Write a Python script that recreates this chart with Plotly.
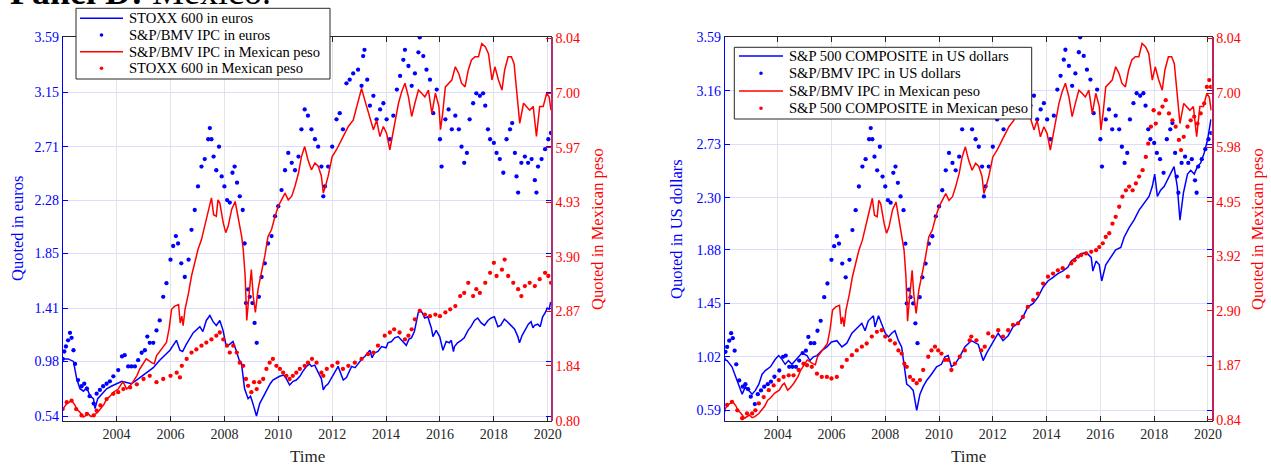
import plotly.graph_objects as go

# ---------------- data (decimal year, value) ----------------
stoxx600_eur = [(2002.0,1.00),(2002.2,1.00),(2002.4,0.98),(2002.52,0.84),(2002.64,0.76),(2002.77,0.74),(2002.89,0.77),
 (2003.02,0.70),(2003.14,0.68),(2003.2,0.60),(2003.3,0.68),(2003.45,0.72),(2003.63,0.76),(2003.8,0.78),(2004.0,0.80),
 (2004.2,0.82),(2004.37,0.81),(2004.55,0.80),(2004.74,0.83),(2004.99,0.87),(2005.2,0.90),(2005.36,0.93),(2005.6,0.99),
 (2005.8,1.03),(2005.98,1.07),(2006.22,1.15),(2006.35,1.07),(2006.45,1.06),(2006.59,1.12),(2006.84,1.21),(2007.09,1.26),
 (2007.2,1.22),(2007.33,1.31),(2007.46,1.35),(2007.58,1.30),(2007.7,1.27),(2007.83,1.31),(2007.95,1.23),(2008.07,1.10),
 (2008.2,1.12),(2008.32,1.14),(2008.45,1.06),(2008.55,0.99),(2008.63,0.97),(2008.75,0.76),(2008.88,0.68),(2008.97,0.70),
 (2009.06,0.64),(2009.19,0.54),(2009.31,0.64),(2009.45,0.70),(2009.56,0.75),(2009.7,0.80),(2009.8,0.83),(2009.95,0.85),
 (2010.05,0.86),(2010.2,0.87),(2010.3,0.84),(2010.42,0.79),(2010.55,0.82),(2010.67,0.83),(2010.8,0.86),(2010.91,0.90),
 (2011.05,0.94),(2011.16,0.96),(2011.23,0.94),(2011.35,0.95),(2011.48,0.89),(2011.6,0.84),(2011.67,0.75),(2011.75,0.78),
 (2011.85,0.80),(2012.0,0.86),(2012.1,0.90),(2012.22,0.94),(2012.41,0.83),(2012.53,0.85),(2012.72,0.94),(2012.85,0.93),
 (2012.96,0.96),(2013.1,1.00),(2013.21,1.02),(2013.4,1.07),(2013.48,1.01),(2013.58,1.05),(2013.7,1.06),(2013.83,1.10),
 (2014.0,1.09),(2014.07,1.13),(2014.2,1.14),(2014.32,1.17),(2014.45,1.18),(2014.57,1.15),(2014.75,1.11),(2014.85,1.16),
 (2014.94,1.17),(2015.05,1.22),(2015.19,1.37),(2015.25,1.40),(2015.35,1.37),(2015.43,1.33),(2015.55,1.34),(2015.62,1.29),
 (2015.68,1.25),(2015.74,1.18),(2015.86,1.23),(2015.99,1.18),(2016.05,1.12),(2016.11,1.07),(2016.23,1.14),(2016.35,1.13),
 (2016.42,1.15),(2016.5,1.06),(2016.54,1.10),(2016.65,1.13),(2016.79,1.15),(2016.9,1.17),(2017.04,1.23),(2017.15,1.26),
 (2017.28,1.31),(2017.4,1.33),(2017.53,1.29),(2017.65,1.27),(2017.78,1.31),(2017.9,1.33),(2018.02,1.34),(2018.15,1.26),
 (2018.25,1.27),(2018.39,1.32),(2018.5,1.30),(2018.64,1.27),(2018.77,1.24),(2018.89,1.18),(2018.95,1.13),(2019.05,1.19),
 (2019.14,1.23),(2019.28,1.28),(2019.38,1.30),(2019.45,1.25),(2019.51,1.27),(2019.63,1.28),(2019.72,1.26),(2019.81,1.34),
 (2019.9,1.37),(2019.98,1.41),(2020.05,1.40),(2020.11,1.46)]

ipc_eur = [(2002.0,1.00),(2002.06,1.06),(2002.12,1.10),(2002.2,1.15),(2002.27,1.21),(2002.33,1.17),(2002.4,1.07),
 (2002.46,0.96),(2002.57,0.83),(2002.7,0.78),(2002.8,0.80),(2002.9,0.76),(2003.0,0.70),(2003.15,0.64),(2003.26,0.72),
 (2003.38,0.75),(2003.5,0.78),(2003.63,0.80),(2003.75,0.82),(2003.88,0.86),(2004.06,0.91),(2004.2,1.02),(2004.3,1.03),
 (2004.43,0.94),(2004.55,0.94),(2004.68,0.94),(2004.8,0.99),(2004.93,1.05),(2005.05,1.07),(2005.14,1.18),(2005.23,1.13),
 (2005.36,1.13),(2005.48,1.23),(2005.6,1.31),(2005.73,1.50),(2005.85,1.61),(2006.0,1.80),(2006.1,1.91),(2006.2,1.99),
 (2006.28,1.93),(2006.4,1.77),(2006.53,1.66),(2006.67,1.80),(2006.78,2.04),(2006.9,2.20),(2007.02,2.39),(2007.15,2.55),
 (2007.27,2.61),(2007.4,2.77),(2007.46,2.86),(2007.52,2.77),(2007.6,2.63),(2007.7,2.52),(2007.8,2.71),(2007.9,2.47),
 (2008.0,2.39),(2008.1,2.28),(2008.2,2.26),(2008.3,2.50),(2008.38,2.55),(2008.47,2.42),(2008.57,2.31),(2008.68,2.20),
 (2008.75,1.93),(2008.8,1.45),(2008.88,1.56),(2008.94,1.50),(2009.04,1.45),(2009.12,1.29),(2009.2,1.13),(2009.28,1.50),
 (2009.38,1.66),(2009.5,1.77),(2009.62,1.93),(2009.75,1.99),(2009.88,2.15),(2010.0,2.23),(2010.12,2.36),(2010.25,2.52),
 (2010.37,2.66),(2010.5,2.58),(2010.62,2.52),(2010.75,2.63),(2010.86,2.85),(2010.98,3.01),(2011.1,2.96),(2011.23,2.85),
 (2011.36,2.77),(2011.48,2.71),(2011.6,2.55),(2011.67,2.31),(2011.73,2.39),(2011.85,2.55),(2012.0,2.71),(2012.16,2.93),
 (2012.28,2.98),(2012.4,2.85),(2012.53,3.22),(2012.65,3.25),(2012.78,3.30),(2012.96,3.33),(2013.09,3.20),(2013.15,3.44),
 (2013.2,3.49),(2013.3,3.25),(2013.4,3.04),(2013.53,3.12),(2013.65,2.93),(2013.78,3.01),(2013.9,3.06),(2014.02,2.93),
 (2014.14,2.77),(2014.27,2.96),(2014.4,3.17),(2014.52,3.28),(2014.64,3.41),(2014.7,3.49),(2014.83,3.36),(2014.95,3.20),
 (2015.07,3.30),(2015.2,3.47),(2015.25,3.59),(2015.38,3.44),(2015.5,3.33),(2015.63,3.25),(2015.75,2.98),(2015.88,3.17),
 (2016.0,2.77),(2016.06,2.55),(2016.2,2.93),(2016.32,3.01),(2016.44,2.85),(2016.57,2.96),(2016.7,2.85),(2016.8,2.71),
 (2016.9,2.58),(2017.0,2.66),(2017.1,2.93),(2017.23,3.06),(2017.35,3.14),(2017.48,3.12),(2017.6,3.14),(2017.68,3.04),
 (2017.78,2.85),(2017.86,2.77),(2018.0,2.74),(2018.1,2.66),(2018.22,2.61),(2018.35,2.50),(2018.47,2.77),(2018.6,2.85),
 (2018.68,2.90),(2018.78,2.66),(2018.84,2.47),(2018.9,2.34),(2019.02,2.58),(2019.15,2.63),(2019.27,2.58),(2019.4,2.61),
 (2019.52,2.44),(2019.58,2.34),(2019.64,2.55),(2019.77,2.61),(2019.9,2.69),(2020.02,2.77),(2020.12,2.82)]

# in the chart the IPC quoted in US dollars plots on the same points as the IPC quoted in euros
ipc_usd = list(ipc_eur)

ipc_mxn = [(2002.0,1.02),(2002.15,1.12),(2002.33,1.18),(2002.45,1.10),(2002.52,1.02),(2002.64,0.96),(2002.77,0.87),
 (2002.95,0.93),(2003.05,0.88),(2003.15,0.90),(2003.3,0.96),(2003.4,1.02),(2003.52,1.10),(2003.63,1.21),(2003.75,1.26),
 (2003.88,1.34),(2004.06,1.40),(2004.18,1.50),(2004.25,1.53),(2004.37,1.40),(2004.48,1.45),(2004.6,1.53),(2004.75,1.65),
 (2004.86,1.78),(2005.0,1.90),(2005.1,1.97),(2005.3,1.90),(2005.4,1.88),(2005.48,2.03),(2005.67,2.15),(2005.85,2.28),
 (2005.95,2.55),(2006.04,2.91),(2006.16,2.97),(2006.3,3.00),(2006.36,2.65),(2006.42,2.78),(2006.47,2.60),(2006.54,2.91),
 (2006.67,3.22),(2006.78,3.54),(2006.9,3.79),(2007.02,4.04),(2007.15,4.23),(2007.27,4.48),(2007.4,4.80),(2007.52,5.02),
 (2007.6,4.70),(2007.7,4.67),(2007.76,4.98),(2007.83,4.92),(2007.96,4.54),(2008.05,4.36),(2008.14,4.48),(2008.27,4.80),
 (2008.4,4.95),(2008.52,4.61),(2008.64,4.29),(2008.7,4.04),(2008.77,3.54),(2008.83,2.70),(2008.88,3.00),(2008.92,3.22),
 (2009.0,3.66),(2009.07,3.16),(2009.15,2.85),(2009.25,3.29),(2009.38,3.60),(2009.5,3.92),(2009.62,4.29),(2009.75,4.42),
 (2009.88,4.67),(2010.0,4.86),(2010.12,4.98),(2010.25,5.11),(2010.37,4.98),(2010.5,5.05),(2010.62,5.24),(2010.75,5.49),
 (2010.86,5.80),(2010.98,5.99),(2011.1,5.74),(2011.23,5.55),(2011.36,5.68),(2011.48,5.62),(2011.6,5.43),(2011.67,5.11),
 (2011.75,5.24),(2011.85,5.43),(2012.0,5.80),(2012.16,5.93),(2012.35,6.12),(2012.47,6.24),(2012.6,6.37),(2012.78,6.49),
 (2012.96,6.81),(2013.09,7.09),(2013.21,6.87),(2013.4,6.56),(2013.53,6.31),(2013.65,6.49),(2013.77,6.18),(2013.9,6.37),
 (2014.02,6.24),(2014.14,5.93),(2014.27,6.31),(2014.46,6.81),(2014.58,7.03),(2014.7,7.19),(2014.83,6.93),(2014.95,6.56),
 (2015.07,6.81),(2015.2,7.06),(2015.32,7.00),(2015.44,6.93),(2015.57,7.06),(2015.7,6.62),(2015.83,7.00),(2015.96,6.75),
 (2016.02,6.31),(2016.1,6.62),(2016.2,7.12),(2016.32,7.19),(2016.44,7.25),(2016.57,7.50),(2016.7,7.37),(2016.8,7.19),
 (2016.93,7.12),(2017.05,7.44),(2017.17,7.63),(2017.3,7.69),(2017.43,7.69),(2017.55,7.94),(2017.68,7.88),(2017.8,7.75),
 (2017.93,7.25),(2018.04,7.50),(2018.17,7.25),(2018.3,7.06),(2018.4,7.44),(2018.53,7.69),(2018.65,7.69),(2018.75,7.56),
 (2018.84,7.06),(2018.96,6.43),(2019.1,6.81),(2019.22,6.75),(2019.33,6.68),(2019.46,6.75),(2019.58,6.18),(2019.7,6.75),
 (2019.83,6.75),(2019.96,7.00),(2020.05,6.93),(2020.12,6.68)]

stoxx600_mxn = [(2002.0,1.02),(2002.15,1.15),(2002.33,1.18),(2002.5,1.02),(2002.7,0.90),(2002.9,0.93),(2003.15,0.90),
 (2003.26,0.99),(2003.4,1.09),(2003.63,1.21),(2003.88,1.31),(2004.06,1.34),(2004.25,1.40),(2004.5,1.43),(2004.75,1.49),
 (2005.0,1.59),(2005.23,1.65),(2005.48,1.53),(2005.73,1.59),(2006.0,1.65),(2006.23,1.71),(2006.35,1.62),(2006.42,1.84),
 (2006.6,1.97),(2006.78,2.09),(2006.96,2.15),(2007.15,2.22),(2007.33,2.28),(2007.52,2.34),(2007.7,2.41),(2007.83,2.47),
 (2007.96,2.34),(2008.1,2.22),(2008.2,2.09),(2008.33,2.22),(2008.46,2.09),(2008.57,1.90),(2008.7,1.84),(2008.8,1.59),
 (2008.88,1.46),(2009.0,1.34),(2009.1,1.53),(2009.2,1.40),(2009.3,1.53),(2009.44,1.59),(2009.56,1.78),(2009.68,1.90),
 (2009.8,1.97),(2009.93,1.84),(2010.06,1.78),(2010.18,1.71),(2010.3,1.65),(2010.42,1.59),(2010.54,1.65),(2010.67,1.71),
 (2010.8,1.78),(2010.98,1.84),(2011.1,1.90),(2011.25,1.97),(2011.42,1.90),(2011.6,1.71),(2011.67,1.65),(2011.8,1.78),
 (2012.0,1.84),(2012.2,1.90),(2012.4,1.78),(2012.6,1.84),(2012.84,1.90),(2013.09,1.97),(2013.33,2.06),(2013.53,2.09),
 (2013.7,2.22),(2013.95,2.41),(2014.14,2.47),(2014.3,2.53),(2014.5,2.47),(2014.7,2.34),(2014.83,2.41),(2014.95,2.53),
 (2015.07,2.72),(2015.25,2.88),(2015.44,2.81),(2015.63,2.78),(2015.83,2.81),(2016.0,2.78),(2016.2,2.85),(2016.38,2.91),
 (2016.57,2.97),(2016.75,3.16),(2016.9,3.22),(2017.05,3.41),(2017.23,3.16),(2017.35,3.29),(2017.48,3.22),(2017.68,3.41),
 (2017.86,3.60),(2018.0,3.79),(2018.1,3.54),(2018.3,3.66),(2018.4,3.85),(2018.53,3.54),(2018.72,3.41),(2018.9,3.29),
 (2019.02,3.16),(2019.15,3.35),(2019.33,3.41),(2019.52,3.35),(2019.7,3.48),(2019.9,3.60),(2020.02,3.54),(2020.12,3.41)]

sp500_usd = [(2002.0,1.00),(2002.12,0.99),(2002.3,0.94),(2002.43,0.86),(2002.55,0.80),(2002.68,0.72),(2002.8,0.78),
 (2002.92,0.75),(2003.05,0.72),(2003.17,0.75),(2003.3,0.80),(2003.42,0.88),(2003.54,0.91),(2003.73,0.94),(2003.91,1.00),
 (2004.04,1.03),(2004.16,1.00),(2004.28,0.96),(2004.4,0.99),(2004.53,0.96),(2004.65,0.99),(2004.78,1.02),(2004.9,1.05),
 (2005.09,1.03),(2005.2,0.99),(2005.33,1.02),(2005.46,1.03),(2005.64,1.07),(2005.83,1.10),(2006.0,1.14),(2006.2,1.15),
 (2006.39,1.10),(2006.57,1.13),(2006.76,1.21),(2006.94,1.25),(2007.13,1.29),(2007.25,1.23),(2007.37,1.31),(2007.56,1.35),
 (2007.62,1.26),(2007.75,1.35),(2007.87,1.29),(2008.0,1.21),(2008.12,1.18),(2008.24,1.21),(2008.36,1.23),(2008.49,1.15),
 (2008.61,1.10),(2008.71,0.96),(2008.8,0.80),(2008.92,0.78),(2009.04,0.75),(2009.17,0.59),(2009.29,0.72),(2009.41,0.78),
 (2009.54,0.83),(2009.72,0.88),(2009.91,0.94),(2010.09,0.96),(2010.22,1.02),(2010.34,1.03),(2010.46,0.94),(2010.59,0.96),
 (2010.77,1.02),(2010.96,1.10),(2011.14,1.14),(2011.2,1.15),(2011.46,1.12),(2011.64,0.99),(2011.77,1.05),(2012.0,1.13),
 (2012.2,1.21),(2012.38,1.15),(2012.57,1.19),(2012.75,1.26),(2012.94,1.29),(2013.12,1.34),(2013.3,1.42),(2013.5,1.45),
 (2013.68,1.50),(2013.87,1.58),(2014.05,1.63),(2014.24,1.66),(2014.42,1.69),(2014.6,1.71),(2014.79,1.74),(2014.92,1.79),
 (2015.1,1.82),(2015.29,1.85),(2015.47,1.86),(2015.66,1.82),(2015.72,1.71),(2015.84,1.79),(2015.96,1.76),(2016.05,1.63),
 (2016.2,1.76),(2016.39,1.82),(2016.57,1.88),(2016.76,1.90),(2016.88,1.98),(2017.07,2.06),(2017.25,2.12),(2017.44,2.20),
 (2017.62,2.25),(2017.81,2.31),(2017.93,2.39),(2018.02,2.49),(2018.12,2.31),(2018.24,2.36),(2018.37,2.39),(2018.55,2.47),
 (2018.74,2.55),(2018.86,2.39),(2018.96,2.12),(2019.09,2.34),(2019.24,2.49),(2019.36,2.52),(2019.49,2.49),(2019.61,2.55),
 (2019.73,2.58),(2019.86,2.66),(2019.99,2.77),(2020.11,2.93)]

sp500_mxn = [(2002.0,1.02),(2002.12,1.12),(2002.3,1.18),(2002.5,1.02),(2002.68,0.87),(2002.86,0.96),(2003.05,0.96),
 (2003.17,1.02),(2003.3,1.15),(2003.48,1.27),(2003.67,1.40),(2003.85,1.49),(2004.04,1.59),(2004.22,1.65),(2004.41,1.68),
 (2004.59,1.68),(2004.78,1.78),(2004.96,1.90),(2005.09,1.87),(2005.27,1.84),(2005.46,1.71),(2005.64,1.65),(2005.83,1.65),
 (2006.0,1.62),(2006.2,1.65),(2006.39,1.84),(2006.57,1.97),(2006.76,2.06),(2006.94,2.15),(2007.13,2.22),(2007.31,2.28),
 (2007.5,2.41),(2007.69,2.50),(2007.87,2.53),(2008.0,2.41),(2008.18,2.34),(2008.36,2.28),(2008.49,2.15),(2008.61,2.09),
 (2008.71,1.90),(2008.8,1.84),(2008.92,1.65),(2009.04,1.59),(2009.17,1.53),(2009.29,1.59),(2009.41,1.78),(2009.6,2.03),
 (2009.72,2.15),(2009.85,2.22),(2009.97,2.15),(2010.09,2.09),(2010.22,1.97),(2010.34,1.97),(2010.46,1.78),(2010.59,1.90),
 (2010.77,2.03),(2010.96,2.15),(2011.14,2.34),(2011.2,2.41),(2011.39,2.34),(2011.57,2.15),(2011.7,2.22),(2011.83,2.47),
 (2012.0,2.41),(2012.2,2.53),(2012.38,2.41),(2012.57,2.53),(2012.75,2.63),(2012.94,2.66),(2013.12,2.78),(2013.3,2.97),
 (2013.5,3.10),(2013.68,3.22),(2013.87,3.41),(2014.05,3.54),(2014.24,3.60),(2014.42,3.66),(2014.6,3.70),(2014.79,3.54),
 (2014.92,3.79),(2015.04,3.85),(2015.17,3.92),(2015.29,3.95),(2015.47,3.98),(2015.66,4.01),(2015.84,4.04),(2015.96,4.10),
 (2016.09,4.17),(2016.2,4.29),(2016.33,4.36),(2016.45,4.54),(2016.57,4.67),(2016.7,4.86),(2016.82,5.05),(2016.95,5.17),
 (2017.07,5.24),(2017.2,5.17),(2017.32,5.30),(2017.44,5.43),(2017.57,5.55),(2017.69,5.80),(2017.78,6.05),(2017.88,6.37),
 (2017.98,6.68),(2018.06,6.43),(2018.19,6.62),(2018.31,6.75),(2018.43,6.87),(2018.55,6.62),(2018.68,6.49),(2018.8,6.37),
 (2018.92,6.12),(2019.0,5.93),(2019.1,6.18),(2019.24,6.37),(2019.36,6.49),(2019.49,6.56),(2019.61,6.43),(2019.73,6.62),
 (2019.86,6.81),(2019.96,7.12),(2020.05,7.25),(2020.11,7.12)]

year_ticks = [2004, 2006, 2008, 2010, 2012, 2014, 2016, 2018, 2020]
left_ticks_1 = [0.54, 0.98, 1.41, 1.85, 2.28, 2.71, 3.15, 3.59]
right_ticks_1 = [0.80, 1.84, 2.87, 3.90, 4.93, 5.97, 7.00, 8.04]
left_ticks_2 = [0.59, 1.02, 1.45, 1.88, 2.30, 2.73, 3.16, 3.59]
right_ticks_2 = [0.84, 1.87, 2.90, 3.92, 4.95, 5.98, 7.00, 8.04]

legend_1 = ["STOXX 600 in euros", "S&P/BMV IPC in euros", "S&P/BMV IPC in Mexican peso", "STOXX 600 in Mexican peso"]
legend_2 = ["S&P 500 COMPOSITE in US dollars", "S&P/BMV IPC in US dollars", "S&P/BMV IPC in Mexican peso",
            "S&P 500 COMPOSITE in Mexican peso"]

# ---------------- styling ----------------
W, H = 1271, 466
BLUE = "#0000ff"
RED = "#ff0000"
DARK = "#262626"
FONT = "Liberation Serif"


def split(pairs):
    return [p[0] for p in pairs], [p[1] for p in pairs]


def px(x):
    return x / W


def py(y):
    return 1 - y / H


fig = go.Figure()


def line(pairs, color, name, xa, ya):
    t, v = split(pairs)
    fig.add_trace(go.Scatter(x=t, y=v, mode="lines", name=name, line=dict(color=color, width=1.5),
                             xaxis=xa, yaxis=ya, showlegend=False, hoverinfo="skip"))


def dots(pairs, color, name, xa, ya):
    t, v = split(pairs)
    fig.add_trace(go.Scatter(x=t, y=v, mode="markers", name=name, marker=dict(color=color, size=4.3),
                             xaxis=xa, yaxis=ya, showlegend=False, hoverinfo="skip"))


# Panel 1 (euros)
line(stoxx600_eur, BLUE, legend_1[0], "x", "y")
dots(ipc_eur, BLUE, legend_1[1], "x", "y")
line(ipc_mxn, RED, legend_1[2], "x", "y2")
dots(stoxx600_mxn, RED, legend_1[3], "x", "y2")
# Panel 2 (US dollars)
line(sp500_usd, BLUE, legend_2[0], "x2", "y3")
dots(ipc_usd, BLUE, legend_2[1], "x2", "y3")
line(ipc_mxn, RED, legend_2[2], "x2", "y4")
dots(sp500_mxn, RED, legend_2[3], "x2", "y4")

ydom = [py(421), py(36.7)]


def xaxis(dom, rng, anchor):
    return dict(domain=dom, range=rng, anchor=anchor, tickmode="array", tickvals=year_ticks,
                ticktext=[str(y) for y in year_ticks], ticks="inside", ticklen=5, tickcolor=DARK,
                showline=True, linecolor=DARK, linewidth=1, mirror="ticks", showgrid=True,
                gridcolor="#e3e3e3", gridwidth=1, zeroline=False, tickfont=dict(family=FONT, size=14, color=DARK))


def yleft(rng, ticks, anchor):
    return dict(domain=ydom, range=rng, anchor=anchor, tickmode="array", tickvals=ticks,
                ticktext=["%.2f" % v for v in ticks], ticks="inside", ticklen=5, tickcolor=BLUE,
                showline=True, linecolor=BLUE, linewidth=1, mirror="ticks", showgrid=True,
                gridcolor="#dcdcff", gridwidth=1, zeroline=False, tickfont=dict(family=FONT, size=14, color=BLUE))


def yright(rng, ticks, anchor, over, lc):
    return dict(range=rng, anchor=anchor, overlaying=over, side="right", tickmode="array", tickvals=ticks,
                ticktext=["%.2f" % v for v in ticks], ticks="inside", ticklen=5, tickcolor=RED,
                showline=True, linecolor=lc, linewidth=1.5, showgrid=False, zeroline=False,
                tickfont=dict(family=FONT, size=14, color=RED))


fig.update_layout(
    width=W, height=H, margin=dict(l=0, r=0, t=0, b=0, autoexpand=False),
    paper_bgcolor="white", plot_bgcolor="white", showlegend=False,
    xaxis=xaxis([px(62.7), px(551)], [2002.0, 2020.12], "y"),
    yaxis=yleft([0.500, 3.596], left_ticks_1, "x"),
    yaxis2=yright([0.795, 8.07], right_ticks_1, "x", "y", "#b03078"),
    xaxis2=xaxis([px(724.7), px(1211.7)], [2002.03, 2020.14], "y3"),
    yaxis3=yleft([0.504, 3.595], left_ticks_2, "x2"),
    yaxis4=yright([0.818, 8.068], right_ticks_2, "x2", "y3", "#c0205a"),
)

# ---- axis titles ----
ann = [
    dict(text="Quoted in euros", x=px(17), y=py(229), color=BLUE, angle=-90, size=16.5),
    dict(text="Quoted in Mexican peso", x=px(597), y=py(229), color=RED, angle=-90, size=16.5),
    dict(text="Time", x=px(307), y=py(456), color=DARK, angle=0, size=17),
    dict(text="Quoted in US dollars", x=px(676), y=py(229), color=BLUE, angle=-90, size=16.5),
    dict(text="Quoted in Mexican peso", x=px(1257), y=py(229), color=RED, angle=-90, size=16.5),
    dict(text="Time", x=px(968), y=py(456), color=DARK, angle=0, size=17),
]
for a in ann:
    fig.add_annotation(text=a["text"], x=a["x"], y=a["y"], xref="paper", yref="paper", showarrow=False,
                       xanchor="center", yanchor="middle", textangle=a["angle"],
                       font=dict(family=FONT, size=a["size"], color=a["color"]))

fig.add_annotation(text="<b>Panel D:</b> Mexico.", x=px(8), y=py(14), xref="paper", yref="paper",
                   showarrow=False, xanchor="left", yanchor="bottom",
                   font=dict(family=FONT, size=36, color="black"))


# ---- boxed legends (MATLAB style) ----
def legend_box(x0, y0, x1, y1, rows, labels, line_x0, line_x1, text_x):
    fig.add_shape(type="rect", xref="paper", yref="paper", x0=px(x0), x1=px(x1), y0=py(y1), y1=py(y0),
                  line=dict(color=DARK, width=1), fillcolor="white", layer="above")
    kinds = [("line", BLUE), ("dot", BLUE), ("line", RED), ("dot", RED)]
    for (kind, col), ry, lab in zip(kinds, rows, labels):
        if kind == "line":
            fig.add_shape(type="line", xref="paper", yref="paper", x0=px(line_x0), x1=px(line_x1),
                          y0=py(ry), y1=py(ry), line=dict(color=col, width=1.5), layer="above")
        else:
            cx = (line_x0 + line_x1) / 2
            fig.add_shape(type="circle", xref="paper", yref="paper", x0=px(cx - 1.8), x1=px(cx + 1.8),
                          y0=py(ry + 1.8), y1=py(ry - 1.8), line=dict(color=col, width=0), fillcolor=col,
                          layer="above")
        fig.add_annotation(text=lab, x=px(text_x), y=py(ry), xref="paper", yref="paper", showarrow=False,
                           xanchor="left", yanchor="middle", font=dict(family=FONT, size=14.6, color="black"))


legend_box(76, 8.3, 330, 79, [18.3, 35, 51.7, 68.3], legend_1, 80, 123, 127)
legend_box(734.3, 47.3, 1031.7, 119, [56, 73.3, 91, 108.3], legend_2, 739, 783, 786.5)

fig.write_html("out.html", config={"displayModeBar": False, "responsive": False},
               post_script="document.body.style.margin='0';document.body.style.overflow='hidden';")
